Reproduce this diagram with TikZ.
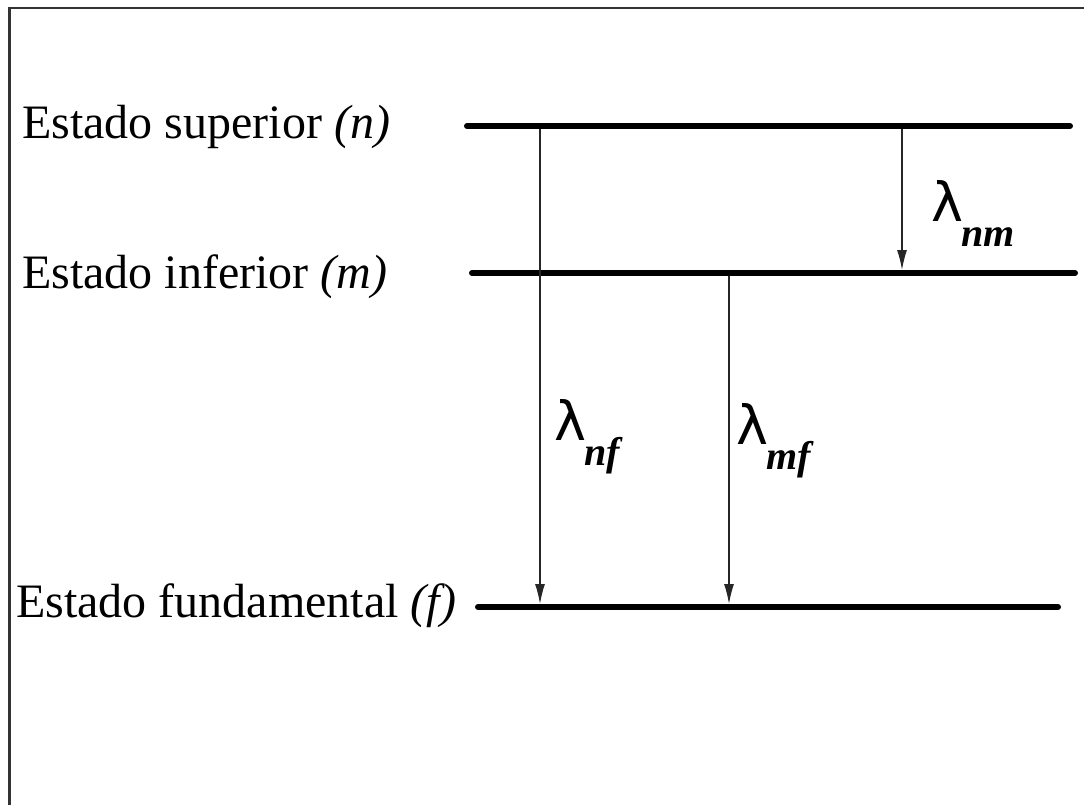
\documentclass[tikz,border=0pt]{standalone}
\usepackage{fontspec}
\setmainfont{Liberation Serif}
\newfontfamily\lamfont{DejaVu Sans}
\usetikzlibrary{arrows.meta}
\tikzset{
  level/.style={line width=6pt, line cap=round},
  trans/.style={line width=1.3pt, draw=black!85, -{Latex[length=20pt,width=10pt]}},
  lbl/.style={anchor=base west, inner sep=0pt, font=\fontsize{48}{56}\selectfont},
  lam/.style={anchor=base west, inner sep=0pt},
}
\newcommand{\lamsub}[1]{{\lamfont\fontsize{54}{60}\selectfont λ}\kern-2pt\raisebox{-25pt}{\fontsize{40}{46}\selectfont\bfseries\itshape #1}}
\begin{document}
\begin{tikzpicture}[x=1pt,y=-1pt]
\useasboundingbox (0,0) rectangle (1084,805);
\draw[line width=2.5pt, color=black!80] (9.5,1000) -- (9.5,8) -- (1200,8);
% levels
\coordinate (n1) at (467,126); \coordinate (n2) at (1070,126);
\coordinate (m1) at (472,273); \coordinate (m2) at (1075,273);
\coordinate (f1) at (478,607); \coordinate (f2) at (1058,607);
\draw[level] (n1) -- (n2);
\draw[level] (m1) -- (m2);
\draw[level] (f1) -- (f2);
% transitions
\coordinate (nfa) at (540,129); \coordinate (nfb) at (540,604);
\coordinate (mfa) at (729,276); \coordinate (mfb) at (729,604);
\coordinate (nma) at (902,129); \coordinate (nmb) at (902,270);
\draw[trans] (nfa) -- (nfb);
\draw[trans] (mfa) -- (mfb);
\draw[trans] (nma) -- (nmb);
% labels
\node[lbl] (ln) at (22,139) {Estado superior \textit{(n)}};
\node[lbl] (lm) at (22,288) {Estado inferior \textit{(m)}};
\node[lbl] (lf) at (16,617) {Estado fundamental \textit{(f)}};
\node[lam] (lnm) at (931,222) {\lamsub{nm}};
\node[lam] (lnf) at (554,440) {\lamsub{nf}};
\node[lam] (lmf) at (736,444) {\lamsub{mf}};
\end{tikzpicture}
\end{document}
